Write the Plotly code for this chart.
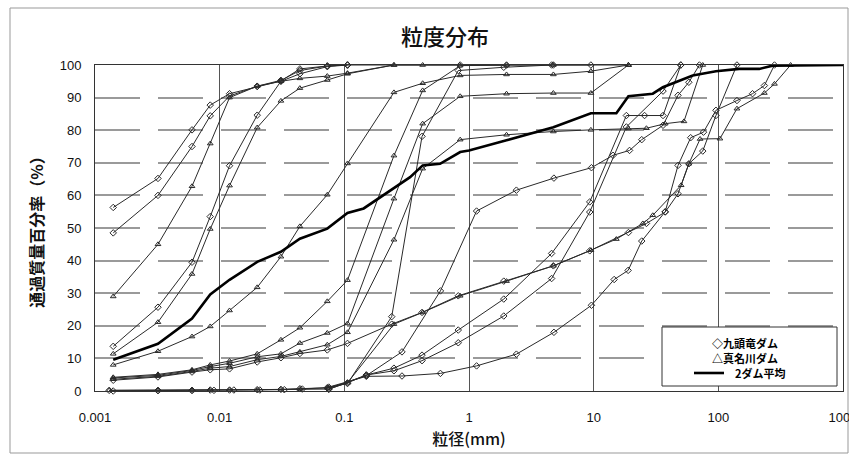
import plotly.graph_objects as go

# ---------------- data ----------------
FINE = [0.0014, 0.0032, 0.006, 0.0084, 0.012, 0.02, 0.031, 0.044, 0.073]

# 九頭竜ダム (diamonds)
k1_d = FINE + [0.106, 0.85, 2, 4.75, 9.5]
k1_p = [56.3, 65.2, 80.1, 87.7, 91.2, 93.4, 95.1, 98.8, 99.7, 100, 100, 100, 100, 100]
k2_d = FINE + [0.106]
k2_p = [48.5, 60.0, 75.0, 84.4, 90.5, 93.5, 95.3, 98.3, 99.7, 100]
k3_d = FINE + [0.106]
k3_p = [13.7, 25.7, 39.5, 53.5, 69.1, 84.6, 95.0, 97.3, 99.5, 100]
k4_d = FINE + [0.106, 0.24, 0.42, 0.82, 1.9, 4.75, 9.3, 19, 26.5, 37.5, 47.5, 58, 75, 95.7, 141]
k4_p = [3.3, 4.3, 5.8, 6.5, 6.8, 8.9, 10.2, 11.5, 12.6, 14.6, 20.5, 24.1, 29.2, 33.7, 38.4,
        43.0, 48.6, 51.4, 54.9, 60.5, 69.7, 73.6, 84.5, 100]
k5_d = [0.075, 0.15, 0.29, 0.59, 1.15, 2.4, 4.8, 9.6, 14.3, 19.4, 24.3, 36, 47.5, 58, 70.5]
k5_p = [0.8, 4.7, 12.0, 30.7, 55.2, 61.6, 65.3, 68.5, 72.3, 73.8, 77.1, 81.5, 90.7, 94.7, 100]
k6_d = [0.0013, 0.0032, 0.006, 0.0084, 0.012, 0.02, 0.031, 0.044, 0.073, 0.106, 0.24, 0.42, 0.82, 1.9, 4.6]
k6_p = [0.2, 0.2, 0.2, 0.3, 0.3, 0.4, 0.5, 0.7, 1.0, 2.3, 22.8, 78.1, 98.3, 99.3, 100]
k7_d = [0.0014, 0.0032, 0.006, 0.009, 0.013, 0.021, 0.033, 0.046, 0.075, 0.106, 0.15, 0.25,
        0.42, 0.82, 1.9, 4.6, 9.3, 18.3, 25.6, 36, 50]
k7_p = [0.0, 0.1, 0.2, 0.2, 0.3, 0.3, 0.4, 0.6, 0.6, 2.5, 4.9, 7.0, 11.0, 18.7, 28.2, 42.2,
        58.0, 84.5, 84.5, 84.5, 100]
k8_d = [0.075, 0.15, 0.25, 0.42, 0.82, 1.9, 4.6, 9.3, 18.3, 36, 50]
k8_p = [0.5, 4.9, 6.2, 9.3, 14.8, 23.0, 34.5, 54.9, 81.0, 92.0, 100]
k9_d = [0.075, 0.15, 0.29, 0.59, 1.15, 2.4, 4.8, 9.6, 14.6, 18.9, 24.3, 37.5, 47.5, 60, 76,
        95.7, 141, 188, 234, 282]
k9_p = [1.2, 4.5, 4.6, 5.4, 7.7, 11.3, 18.0, 26.3, 34.2, 37.0, 46.0, 55.0, 69.2, 77.7, 79.4,
        86.1, 89.1, 91.2, 93.7, 100]

# 真名川ダム (triangles)
m1_d = FINE + [0.106, 0.25, 0.425, 4.75, 19]
m1_p = [29.0, 45.0, 62.8, 75.9, 90.0, 93.5, 95.0, 95.9, 96.6, 97.5, 100, 100, 100, 100]
m2_d = FINE + [0.106, 0.25]
m2_p = [11.4, 21.1, 35.9, 49.7, 63.0, 80.8, 89.0, 92.9, 95.4, 97.3, 100]
m3_d = FINE + [0.106, 0.25, 0.425, 0.85, 2, 4.75, 9.5, 19]
m3_p = [8.0, 12.2, 16.7, 19.8, 24.7, 31.8, 41.2, 50.5, 60.2, 69.8, 91.6, 94.4, 96.8, 97.1,
        97.1, 98.1, 100]
m4_d = FINE + [0.106, 0.25, 0.425, 0.85, 2]
m4_p = [4.2, 5.1, 6.5, 8.0, 9.2, 11.4, 15.7, 19.4, 27.5, 34.0, 72.2, 92.2, 99.8, 100]
m5_d = FINE + [0.106, 0.25, 0.425, 0.85, 2, 4.75, 9.5, 19]
m5_p = [4.0, 4.8, 6.3, 7.5, 8.5, 10.5, 11.4, 14.7, 17.8, 20.7, 59.0, 82.0, 90.4, 91.2, 91.4,
        91.4, 100]
m6_d = FINE + [0.106, 0.25, 0.425, 0.85, 2, 4.75, 9.5, 19, 26.5, 37.5, 53, 75]
m6_p = [3.6, 4.5, 6.0, 7.0, 7.5, 9.6, 10.6, 12.0, 14.2, 18.0, 46.4, 68.2, 77.1, 78.6, 79.6,
        80.1, 80.5, 80.6, 82.0, 82.7, 100]
m7_d = [0.0013, 0.0032, 0.006, 0.0084, 0.012, 0.02, 0.031, 0.044, 0.073, 0.106, 0.25, 0.425,
        0.85, 2, 4.75, 9.5, 15.2, 24.8, 29.8, 50.3, 58, 71.4, 103, 141, 234, 282, 380]
m7_p = [0.2, 0.2, 0.2, 0.3, 0.3, 0.3, 0.4, 0.6, 1.0, 2.5, 20.5, 24.1, 29.2, 33.7, 38.4, 43.2,
        46.6, 51.4, 53.9, 63.1, 69.7, 77.3, 77.4, 86.6, 91.4, 94.2, 100]

# 2ダム平均 (thick line)
avg_d = [0.0014, 0.0032, 0.006, 0.0084, 0.012, 0.02, 0.031, 0.044, 0.073, 0.106, 0.143, 0.25,
         0.337, 0.425, 0.586, 0.85, 1.0, 2, 4.75, 9.5, 15.2, 19, 29.8, 35.9, 44.5, 62.3, 95.7,
         147, 213, 272, 1000]
avg_p = [9.6, 14.5, 22.2, 29.6, 34.1, 39.6, 42.7, 46.7, 49.8, 54.6, 56.0, 62.1, 65.6, 69.2,
         69.7, 73.3, 73.8, 76.9, 80.9, 85.2, 85.2, 90.4, 91.2, 93.2, 94.7, 96.8, 98.1, 98.8,
         98.8, 99.8, 100]

kuzuryu = [(k1_d, k1_p), (k2_d, k2_p), (k3_d, k3_p), (k4_d, k4_p), (k5_d, k5_p),
           (k6_d, k6_p), (k7_d, k7_p), (k8_d, k8_p), (k9_d, k9_p)]
managawa = [(m1_d, m1_p), (m2_d, m2_p), (m3_d, m3_p), (m4_d, m4_p), (m5_d, m5_p),
            (m6_d, m6_p), (m7_d, m7_p)]

x_tickvals = [0.001, 0.01, 0.1, 1, 10, 100, 1000]
x_ticktext = ["0.001", "0.01", "0.1", "1", "10", "100", "1000"]
y_tickvals = list(range(0, 101, 10))

legend_labels = ["◇九頭竜ダム", "△真名川ダム", "2ダム平均"]

# ---------------- figure ----------------
LINE_C = "#2a2a2a"
fig = go.Figure()

def add_series(d, p, symbol, name):
    fig.add_trace(go.Scatter(
        x=d, y=p, mode="lines+markers", name=name,
        line=dict(color=LINE_C, width=1),
        marker=dict(symbol=symbol, size=5, color=LINE_C, line=dict(width=1, color=LINE_C)),
        showlegend=False, cliponaxis=False, hoverinfo="x+y"))

for d, p in kuzuryu:
    add_series(d, p, "diamond-open", "九頭竜ダム")
for d, p in managawa:
    add_series(d, p, "triangle-up-open", "真名川ダム")

fig.add_trace(go.Scatter(x=avg_d, y=avg_p, mode="lines", name="2ダム平均",
                         line=dict(color="#000000", width=2.6),
                         showlegend=False, cliponaxis=False))

L, R, T, B = 95, 6, 65, 75
W, H = 849, 466
pw, ph = W - L - R, H - T - B

def px_x(px):
    return (px - L) / pw

def px_y(py):
    return (H - B - py) / ph

JP = "Noto Sans CJK JP"
legend_font = dict(family=JP, size=11, color="#000", weight="bold")

annotations = [
    dict(xref="paper", yref="paper", x=px_x(745), y=px_y(343), text=legend_labels[0],
         showarrow=False, xanchor="center", yanchor="middle", font=legend_font),
    dict(xref="paper", yref="paper", x=px_x(745), y=px_y(358), text=legend_labels[1],
         showarrow=False, xanchor="center", yanchor="middle", font=legend_font),
    dict(xref="paper", yref="paper", x=px_x(733), y=px_y(373), text=legend_labels[2],
         showarrow=False, xanchor="left", yanchor="middle", font=legend_font),
]

fig.update_layout(
    width=W, height=H,
    margin=dict(l=L, r=R, t=T, b=B),
    paper_bgcolor="white", plot_bgcolor="white",
    showlegend=False,
    font=dict(family="Liberation Sans, Noto Sans CJK JP", color="#111", size=13),
    title=dict(text="粒度分布", x=445 / W, xanchor="center", y=1 - 37 / H, yanchor="middle",
               font=dict(family=JP, size=22, color="#111", weight=500)),
    xaxis=dict(type="log", range=[-3, 3], tickvals=x_tickvals, ticktext=x_ticktext,
               automargin=False,
               showgrid=True, gridcolor="#555", gridwidth=1,
               showline=True, linecolor="#333", linewidth=1, mirror=True,
               ticks="", zeroline=False, ticklabelstandoff=14, ticklabeloverflow="allow",
               tickfont=dict(family="Liberation Sans", size=13, color="#111"),
               title=dict(text="粒径(mm)", standoff=10,
                          font=dict(family=JP, size=16, color="#111", weight=500))),
    yaxis=dict(range=[0, 100], tickvals=y_tickvals, automargin=False,
               showgrid=True, gridcolor="#9a9a9a", gridwidth=2, griddash="45px,18px",
               showline=True, linecolor="#333", linewidth=1, mirror=True,
               ticks="", zeroline=False, ticklabelstandoff=10,
               tickfont=dict(family="Liberation Sans", size=13, color="#111"),
               title=dict(text="通過質量百分率（%）", standoff=12,
                          font=dict(family=JP, size=16, color="#111", weight="bold"))),
    annotations=annotations,
    shapes=[
        # legend box
        dict(type="rect", xref="paper", yref="paper",
             x0=px_x(662), x1=px_x(837), y0=px_y(386), y1=px_y(327),
             fillcolor="white", line=dict(color="#333", width=1), layer="above"),
        # legend line sample for the average
        dict(type="line", xref="paper", yref="paper",
             x0=px_x(694), x1=px_x(724), y0=px_y(373), y1=px_y(373),
             line=dict(color="#000", width=2.6), layer="above"),
        # outer frame
        dict(type="rect", xref="paper", yref="paper",
             x0=px_x(10), x1=px_x(848), y0=px_y(453), y1=px_y(8),
             fillcolor="rgba(0,0,0,0)", line=dict(color="#999", width=1), layer="below"),
    ],
)

fig.write_html("out.html")
